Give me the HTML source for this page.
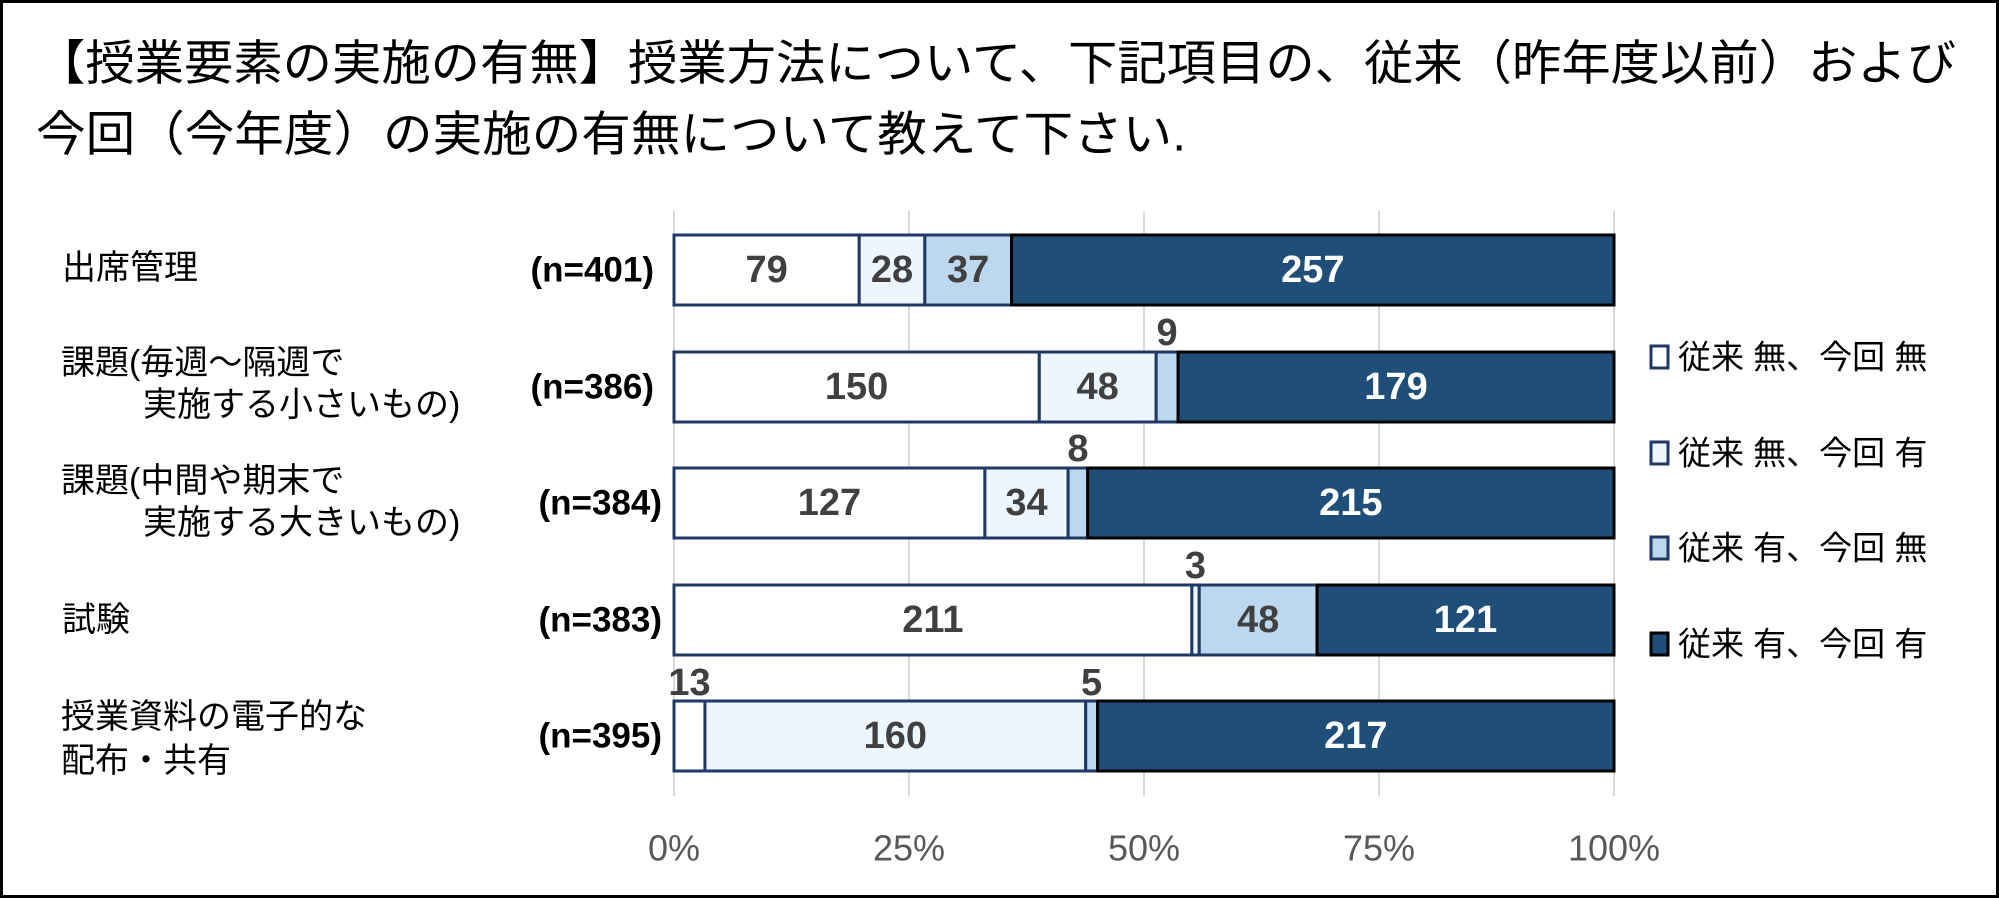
<!DOCTYPE html><html><head><meta charset="utf-8"><style>body{margin:0}svg{display:block}</style></head><body>
<svg width="1999" height="898" xmlns="http://www.w3.org/2000/svg" font-family="Liberation Sans, Noto Sans CJK JP, sans-serif">
<rect x="1.5" y="1.5" width="1996" height="895" fill="#fff" stroke="#000" stroke-width="3"/>
<g font-size="48" fill="#000" dominant-baseline="central">
<text x="36" y="64" textLength="1920" lengthAdjust="spacingAndGlyphs">【授業要素の実施の有無】授業方法について、下記項目の、従来（昨年度以前）および</text>
<text x="36" y="135" textLength="1150" lengthAdjust="spacingAndGlyphs">今回（今年度）の実施の有無について教えて下さい.</text>
</g>
<g stroke="#d9d9d9" stroke-width="2">
<line x1="674" y1="211" x2="674" y2="796"/><line x1="909" y1="211" x2="909" y2="796"/><line x1="1144" y1="211" x2="1144" y2="796"/><line x1="1379" y1="211" x2="1379" y2="796"/><line x1="1614" y1="211" x2="1614" y2="796"/>
</g>
<g font-size="36" fill="#595959" text-anchor="middle" dominant-baseline="central">
<text x="674" y="848">0%</text><text x="909" y="848">25%</text><text x="1144" y="848">50%</text><text x="1379" y="848">75%</text><text x="1614" y="848">100%</text>
</g>
<g stroke-width="3">
<rect x="674" y="235" width="185.19" height="70" fill="#fff" stroke="#1f3864"/>
<rect x="859.19" y="235" width="65.64" height="70" fill="#eef6fd" stroke="#1f3864"/>
<rect x="924.83" y="235" width="86.73" height="70" fill="#bdd7ee" stroke="#1f3864"/>
<rect x="1011.56" y="235" width="602.44" height="70" fill="#1f4e79" stroke="#000"/>

<rect x="674" y="352" width="365.28" height="70" fill="#fff" stroke="#1f3864"/>
<rect x="1039.28" y="352" width="116.89" height="70" fill="#eef6fd" stroke="#1f3864"/>
<rect x="1156.17" y="352" width="21.92" height="70" fill="#bdd7ee" stroke="#1f3864"/>
<rect x="1178.09" y="352" width="435.91" height="70" fill="#1f4e79" stroke="#000"/>

<rect x="674" y="468" width="310.89" height="70" fill="#fff" stroke="#1f3864"/>
<rect x="984.89" y="468" width="83.23" height="70" fill="#eef6fd" stroke="#1f3864"/>
<rect x="1068.12" y="468" width="19.58" height="70" fill="#bdd7ee" stroke="#1f3864"/>
<rect x="1087.7" y="468" width="526.3" height="70" fill="#1f4e79" stroke="#000"/>

<rect x="674" y="585" width="517.86" height="70" fill="#fff" stroke="#1f3864"/>
<rect x="1191.86" y="585" width="7.36" height="70" fill="#eef6fd" stroke="#1f3864"/>
<rect x="1199.22" y="585" width="117.81" height="70" fill="#bdd7ee" stroke="#1f3864"/>
<rect x="1317.03" y="585" width="296.97" height="70" fill="#1f4e79" stroke="#000"/>

<rect x="674" y="701" width="30.94" height="70" fill="#fff" stroke="#1f3864"/>
<rect x="704.94" y="701" width="380.76" height="70" fill="#eef6fd" stroke="#1f3864"/>
<rect x="1085.7" y="701" width="11.9" height="70" fill="#bdd7ee" stroke="#1f3864"/>
<rect x="1097.6" y="701" width="516.4" height="70" fill="#1f4e79" stroke="#000"/>
</g>
<g font-size="38" font-weight="bold" fill="#404040" text-anchor="middle" dominant-baseline="central">
<text x="766.6" y="270">79</text><text x="892" y="270">28</text><text x="968.2" y="270">37</text><text x="1312.8" y="270" fill="#fff">257</text>
<text x="856.6" y="387">150</text><text x="1097.7" y="387">48</text><text x="1167.1" y="333">9</text><text x="1396" y="387" fill="#fff">179</text>
<text x="829.4" y="503">127</text><text x="1026.5" y="503">34</text><text x="1077.9" y="449">8</text><text x="1350.8" y="503" fill="#fff">215</text>
<text x="932.9" y="620">211</text><text x="1195.5" y="566">3</text><text x="1258.1" y="620">48</text><text x="1465.5" y="620" fill="#fff">121</text>
<text x="689.5" y="683">13</text><text x="895.3" y="736">160</text><text x="1091.6" y="683">5</text><text x="1355.8" y="736" fill="#fff">217</text>
</g>
<g font-size="34" fill="#000" dominant-baseline="central">
<text x="62" y="268">出席管理</text>
<text x="61" y="363">課題(毎週～隔週で</text><text x="143" y="405">実施する小さいもの)</text>
<text x="61" y="481">課題(中間や期末で</text><text x="143" y="523">実施する大きいもの)</text>
<text x="62" y="620">試験</text>
<text x="61" y="717">授業資料の電子的な</text><text x="61" y="761">配布・共有</text>
</g>
<g font-size="35" fill="#000" font-weight="bold" text-anchor="end" dominant-baseline="central">
<text x="654" y="270">(n=401)</text><text x="654" y="387">(n=386)</text><text x="662" y="503">(n=384)</text><text x="662" y="620">(n=383)</text><text x="662" y="736">(n=395)</text>
</g>
<g font-size="33" fill="#000" dominant-baseline="central">
<rect x="1651" y="346" width="17" height="22" fill="#fff" stroke="#1f3864" stroke-width="3"/><text x="1678" y="357">従来 無、今回 無</text>
<rect x="1651" y="442" width="17" height="22" fill="#eef6fd" stroke="#1f3864" stroke-width="3"/><text x="1678" y="453">従来 無、今回 有</text>
<rect x="1651" y="537" width="17" height="22" fill="#bdd7ee" stroke="#1f3864" stroke-width="3"/><text x="1678" y="548">従来 有、今回 無</text>
<rect x="1651" y="633" width="17" height="22" fill="#1f4e79" stroke="#000" stroke-width="3"/><text x="1678" y="644">従来 有、今回 有</text>
</g>
</svg></body></html>
